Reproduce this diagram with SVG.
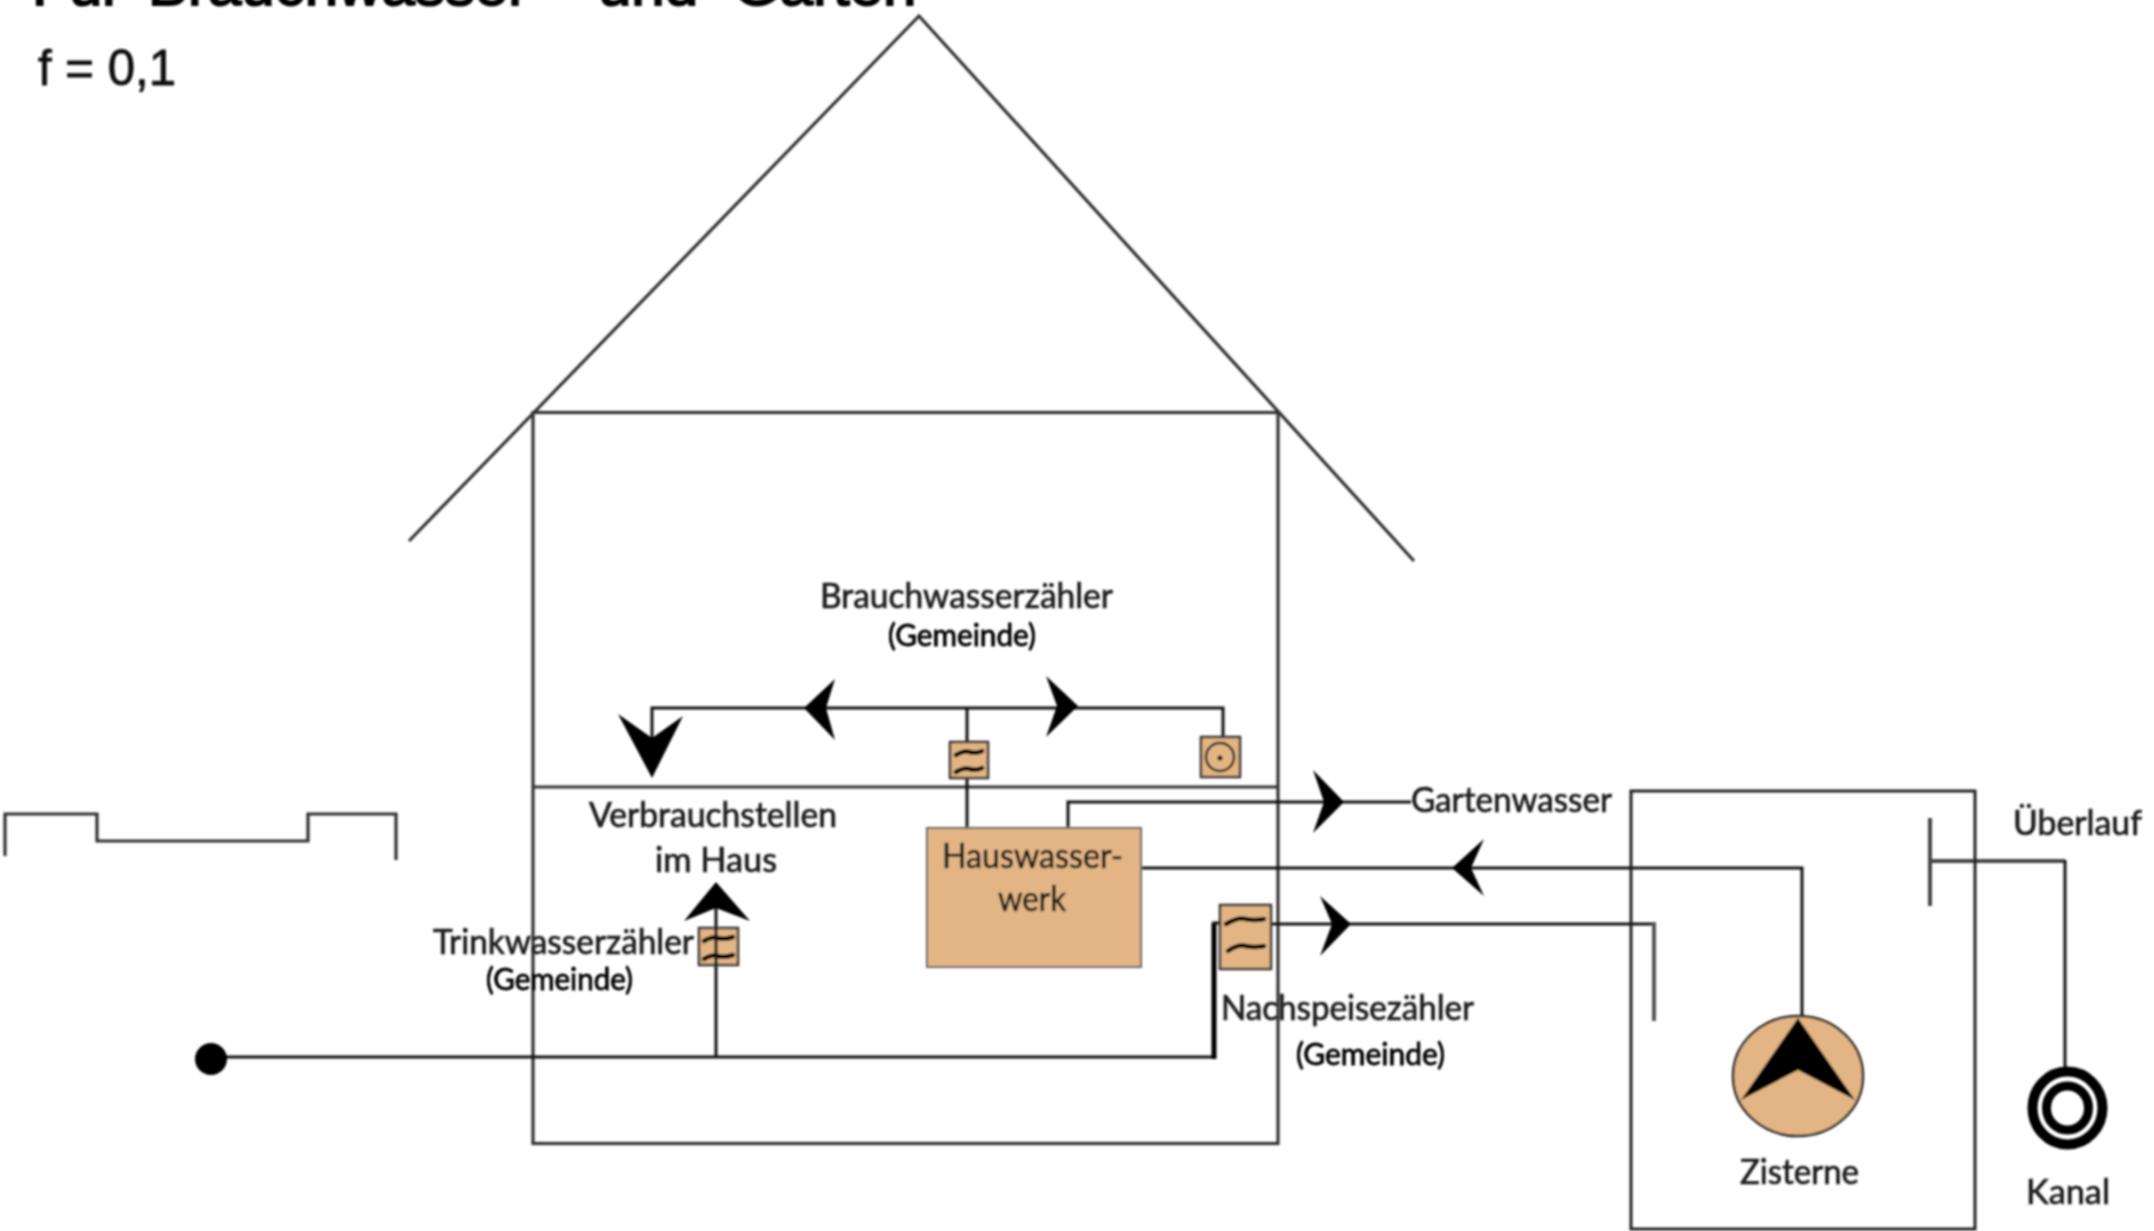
<svg xmlns="http://www.w3.org/2000/svg" width="2154" height="1231" viewBox="0 0 2154 1231">
<style>
text{font-family:"Lato","Liberation Sans",sans-serif;font-size:34px;fill:#1c1c1c;stroke:#1c1c1c;stroke-width:.7}
.g{fill:#000;stroke:#000;stroke-width:.8;font-size:30px}
.t{font-family:"Liberation Sans",Arial,sans-serif;font-size:60px;fill:#000;stroke:#000;stroke-width:2}
.f{font-family:"Liberation Sans",Arial,sans-serif;font-size:50px;fill:#111;stroke:#111;stroke-width:.8}
.w{fill:none;stroke:#333;stroke-width:3.2}
.p{fill:none;stroke:#111;stroke-width:3}
.a{fill:#000;stroke:none}
.o{fill:#e3b584;stroke:#666;stroke-width:2}
.m{fill:#e3b584;stroke:#333;stroke-width:2.5}
.v{fill:none;stroke:#000;stroke-width:4.5;stroke-linecap:round}
</style>
<defs>
<filter id="soft" x="-2%" y="-2%" width="104%" height="104%"><feGaussianBlur stdDeviation="0.8"/></filter>
</defs>
<g filter="url(#soft)">
<g id="title">
<text class="t" y="5"><tspan x="32">Für</tspan><tspan x="148">Brauchwasser</tspan><tspan x="598">und</tspan><tspan x="733">Garten</tspan></text>
<text class="f" x="38" y="85" textLength="138" lengthAdjust="spacingAndGlyphs">f = 0,1</text>
</g>
<g id="house">
<path class="w" d="M409 541L919 16L1414 561"/>
<rect class="w" x="533" y="412.5" width="745" height="731"/>
<path class="w" d="M533 787H1278"/>
</g>
<g id="ground">
<path class="w" d="M5 856V814H97V841H308V814H396V860"/>
</g>
<g id="connectors">
<path class="p" d="M652 745V708H1223V738"/>
<path class="p" d="M967 708V742M967 778V828"/>
<path class="p" d="M1068 828V802H1411"/>
<path class="p" d="M1141 868H1802V1020"/>
<path class="p" d="M225 1057H1213"/>
<path fill="none" stroke="#000" stroke-width="5" d="M1214 1059V923"/>
<path class="p" d="M1212 923H1220M1271 924H1654"/>
<path fill="none" stroke="#555" stroke-width="4" d="M1654 922V1021"/>
<path class="p" d="M716 1057V905"/>
<path fill="none" stroke="#444" stroke-width="4" d="M1930 818V906M1930 861H2065"/>
<path class="p" d="M2065 860V1068"/>
<polygon class="a" points="652,778 618,714 652,738 683,716"/>
<polygon class="a" points="804,708 835,679 826,708 835,740"/>
<polygon class="a" points="1078,706 1046,676 1057,706 1046,737"/>
<polygon class="a" points="1344,802 1313,770 1324,802 1313,833"/>
<polygon class="a" points="1452,868 1484,839 1471,868 1484,896"/>
<polygon class="a" points="1351,924 1320,896 1332,924 1320,956"/>
<polygon class="a" points="716,882 684,921 716,908 750,921"/>
</g>
<g id="inlet"><circle cx="211" cy="1059" r="16" fill="#000"/></g>
<g id="trinkwasserzaehler">
<rect class="m" x="699" y="928" width="39" height="37"/>
<path class="v" d="M704 941Q712 936 718 938T733 937M704 959Q712 954 718 956T733 955"/>
<path class="p" d="M716 928V965"/>
</g>
<g id="brauchwasserzaehler">
<rect class="m" x="950" y="742" width="38" height="36"/>
<path class="v" d="M956 755Q964 750 970 752T982 751M956 772Q964 767 970 769T982 768"/>
</g>
<g id="gartenzaehler">
<rect class="m" x="1201" y="737" width="39" height="40"/>
<ellipse cx="1220" cy="757" rx="14" ry="14" fill="none" stroke="#222" stroke-width="2.5"/>
<circle cx="1220" cy="758" r="2.5" fill="#000"/>
</g>
<g id="hauswasserwerk">
<rect class="o" x="927" y="828" width="214" height="139"/>
</g>
<g id="nachspeisezaehler">
<rect class="m" x="1220" y="905" width="51" height="64"/>
<path class="v" d="M1226 924Q1238 917 1246 919T1264 919M1228 951Q1238 944 1246 946T1264 946"/>
</g>
<g id="zisterne">
<rect x="1631" y="791" width="344" height="438" fill="none" stroke="#222" stroke-width="3"/>
</g>
<g id="pumpe">
<ellipse cx="1798" cy="1076" rx="65" ry="60" fill="#e3b584" stroke="#222" stroke-width="2.5"/>
<polygon class="a" points="1798,1018 1741,1100 1798,1070 1855,1100"/>
</g>
<g id="kanal">
<ellipse cx="2067.5" cy="1108" rx="35" ry="36.5" fill="none" stroke="#000" stroke-width="10"/>
<ellipse cx="2067.5" cy="1108" rx="21" ry="22" fill="none" stroke="#000" stroke-width="9"/>
</g>
<g id="labels">
<text x="820" y="608" textLength="293" lengthAdjust="spacingAndGlyphs">Brauchwasserzähler</text>
<text class="g" x="888" y="646" textLength="148" lengthAdjust="spacingAndGlyphs">(Gemeinde)</text>
<text x="589" y="827" textLength="248" lengthAdjust="spacingAndGlyphs">Verbrauchstellen</text>
<text x="655" y="872" textLength="122" lengthAdjust="spacingAndGlyphs">im Haus</text>
<text x="433" y="954" textLength="261" lengthAdjust="spacingAndGlyphs">Trinkwasserzähler</text>
<text class="g" x="486" y="990" textLength="147" lengthAdjust="spacingAndGlyphs">(Gemeinde)</text>
<text x="942" y="868" textLength="181" lengthAdjust="spacingAndGlyphs">Hauswasser-</text>
<text x="998" y="911" textLength="68" lengthAdjust="spacingAndGlyphs">werk</text>
<text x="1221" y="1020" textLength="253" lengthAdjust="spacingAndGlyphs">Nachspeisezähler</text>
<text class="g" x="1296" y="1065" textLength="149" lengthAdjust="spacingAndGlyphs">(Gemeinde)</text>
<text x="1411" y="812" textLength="201" lengthAdjust="spacingAndGlyphs">Gartenwasser</text>
<text x="2013" y="835" textLength="129" lengthAdjust="spacingAndGlyphs">Überlauf</text>
<text x="1740" y="1184" textLength="119" lengthAdjust="spacingAndGlyphs">Zisterne</text>
<text x="2026" y="1204" textLength="84" lengthAdjust="spacingAndGlyphs">Kanal</text>
</g>
</g>
</svg>
